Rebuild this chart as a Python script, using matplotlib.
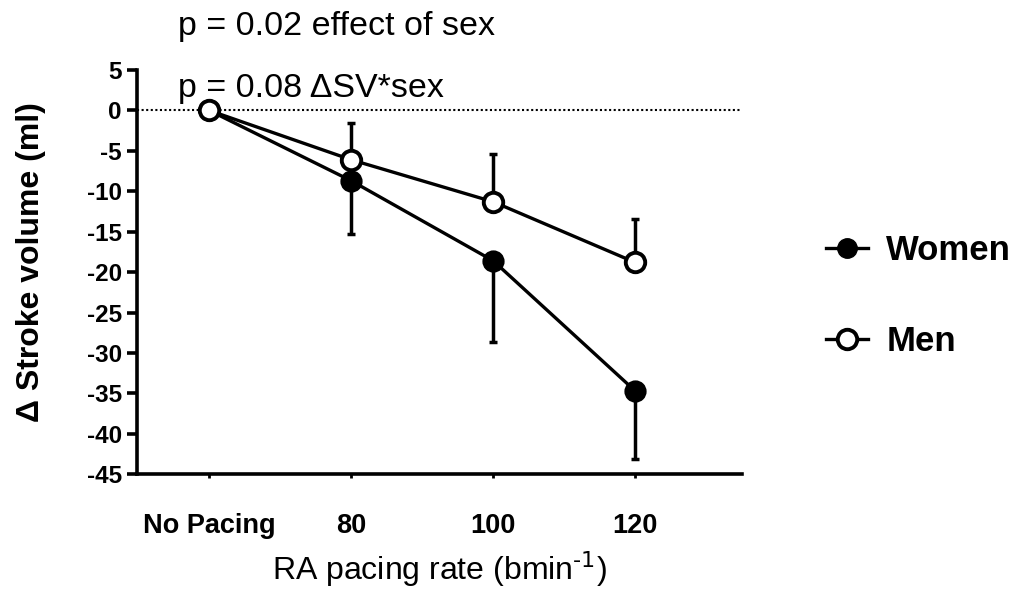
import numpy as np
import matplotlib.pyplot as plt
from matplotlib.lines import Line2D

plt.rcParams['font.family'] = ['Liberation Sans', 'DejaVu Sans']
plt.rcParams['axes.unicode_minus'] = False

categories = ['No Pacing', '80', '100', '120']
women = [0, -8.7, -18.6, -34.7]
women_err = [0, 6.6, 10.0, 8.4]
men = [0, -6.1, -11.3, -18.8]
men_err = [0, 4.6, 5.9, 5.4]

x = np.arange(len(categories))

fig = plt.figure(figsize=(10.3, 5.89), dpi=100)
ax = fig.add_axes([0.133, 0.195, 0.587, 0.686])

ax.axhline(0, color='black', ls=(0, (1, 1.2)), lw=1.5, zorder=1)

# women: error bars drawn downward only
ax.errorbar(x, women, yerr=[women_err, np.zeros(len(x))], fmt='none',
            ecolor='black', elinewidth=2.5, capsize=3, capthick=2.5, zorder=2)
ax.plot(x, women, color='black', lw=2.4, marker='o', ms=14,
        mfc='black', mec='black', mew=2, zorder=3)

# men: error bars drawn upward only
ax.errorbar(x, men, yerr=[np.zeros(len(x)), men_err], fmt='none',
            ecolor='black', elinewidth=2.5, capsize=3, capthick=2.5, zorder=2)
ax.plot(x, men, color='black', lw=2.4, marker='o', ms=14,
        mfc='white', mec='black', mew=2.8, zorder=4)

ax.set_xlim(-0.51, 3.75)
ax.set_ylim(-45, 5)
ax.set_yticks(np.arange(-45, 6, 5))
ax.set_xticks(x)
ax.set_xticklabels(categories)

for s in ['top', 'right']:
    ax.spines[s].set_visible(False)
for s in ['left', 'bottom']:
    ax.spines[s].set_linewidth(2.6)

ax.tick_params(axis='y', direction='out', length=7, width=2.6, pad=4,
               labelsize=17.5)
ax.tick_params(axis='x', direction='out', length=3, width=2, pad=25,
               labelsize=19.5)
for lab in ax.get_yticklabels() + ax.get_xticklabels():
    lab.set_fontweight('bold')

ax.set_ylabel('Δ Stroke volume (ml)', fontsize=23, fontweight='bold')
ax.yaxis.set_label_coords(-0.15, 0.525)
ax.set_xlabel('RA pacing rate (bmin$^{\\text{-1}}$)', fontsize=23)
ax.xaxis.set_label_coords(0.5, -0.185)

fig.text(0.173, 0.955, 'p = 0.02 effect of sex', fontsize=24.5, va='center')
fig.text(0.173, 0.850, 'p = 0.08 ΔSV*sex', fontsize=24.5, va='center')

handles = [
    Line2D([], [], color='black', lw=2.4, marker='o', ms=14, mfc='black',
           mec='black', label='Women'),
    Line2D([], [], color='black', lw=2.4, marker='o', ms=14, mfc='white',
           mec='black', mew=2.8, label='Men'),
]
leg = fig.legend(handles=handles, loc='center left', bbox_to_anchor=(0.772, 0.497),
                 frameon=False, handlelength=1.2, handletextpad=0.52,
                 labelspacing=1.67, prop={'size': 25, 'weight': 'bold'})

fig.savefig('out.png', dpi=100)
